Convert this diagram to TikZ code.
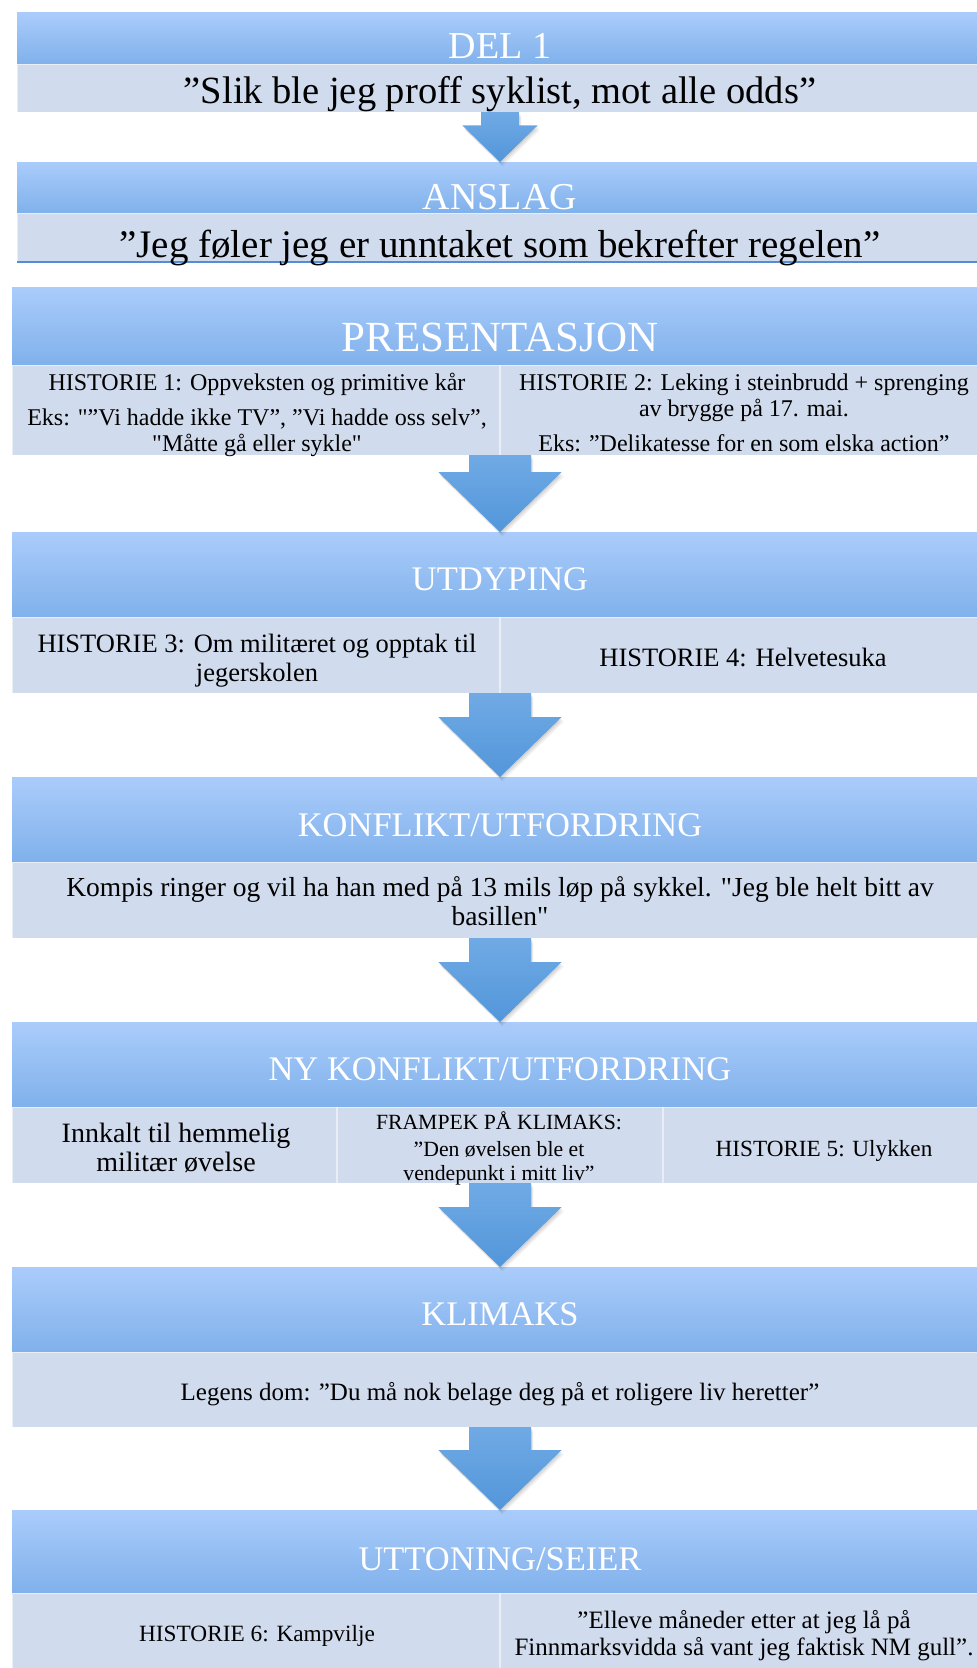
\documentclass[tikz,border=0pt]{standalone}
\usepackage{fontspec}
\setmainfont{Liberation Serif}[Ligatures=TeXOff]
\usetikzlibrary{calc}

\definecolor{hdtop}{RGB}{170,204,251}
\definecolor{hdbot}{RGB}{128,177,235}
\definecolor{cellbg}{RGB}{208,219,237}
\definecolor{arrtop}{RGB}{112,170,229}
\definecolor{arrbot}{RGB}{82,150,218}
\definecolor{rulecol}{RGB}{84,141,212}

\pgfdeclarelayer{boxshadow}
\pgfdeclarelayer{arrshadow}
\pgfdeclarelayer{arrows}
\pgfdeclarelayer{labels}
\pgfsetlayers{boxshadow,main,arrshadow,arrows,labels}

\tikzset{
  hdr/.style={rectangle, inner sep=0pt, outer sep=0pt, top color=hdtop, bottom color=hdbot, draw=none},
  cell/.style={rectangle, inner sep=0pt, outer sep=0pt, fill=cellbg, draw=white, draw opacity=0.55, line width=1pt},
  divider/.style={draw=white, draw opacity=0.55, line width=1.2pt},
  fs/.style={font=\fontsize{#1}{#1}\selectfont},
  htext/.style={anchor=base, inner sep=0pt, text=white},
  btext/.style={anchor=base, inner sep=0pt, text=black},
  arrowbody/.style={top color=arrtop, bottom color=arrbot},
}

% rectangle node given by its corners (x1,y1) (x2,y2)
\newcommand\panel[6]{%
  \node[#6, minimum width={(#4-#2)*1pt}, minimum height={(#5-#3)*1pt}] (#1) at ({(#2+#4)/2},{(#3+#5)/2}) {};}

% soft shadow under a box made of a header and a body node
\newcommand\boxshadow[2]{%
  \foreach \r in {0.5,1.5,2.5,3.5}{%
    \fill[black, opacity=0.07] ($(#1.north west)+(-\r*1pt,\r*1pt-3pt)$) rectangle ($(#2.south east)+(\r*1pt,-\r*1pt-3pt)$);}}

% block arrow outline from the bottom of #1 to the top of #2, scale #3, offset (#4,-#5)
\newcommand\arrowshape[6]{%
  \path[#6] let \p1=(#1.south), \p2=(#2.north) in
    (\x1-31pt*#3+#4,\y1-#5) -- (\x1+31pt*#3+#4,\y1-#5)
    -- (\x1+31pt*#3+#4,\y2+60pt*#3-#5) -- (\x1+61.7pt*#3+#4,\y2+60pt*#3-#5)
    -- (\x1+#4,\y2-#5)
    -- (\x1-61.7pt*#3+#4,\y2+60pt*#3-#5) -- (\x1-31pt*#3+#4,\y2+60pt*#3-#5) -- cycle;}

\newcommand\flowarrow[3]{%
  \begin{pgfonlayer}{arrshadow}
    \arrowshape{#1}{#2}{#3}{0.8pt}{1.5pt}{fill=black, fill opacity=0.07}
    \arrowshape{#1}{#2}{#3}{1.6pt}{3pt}{fill=black, fill opacity=0.06}
    \arrowshape{#1}{#2}{#3}{2.4pt}{4.5pt}{fill=black, fill opacity=0.05}
  \end{pgfonlayer}
  \begin{pgfonlayer}{arrows}
    \arrowshape{#1}{#2}{#3}{0pt}{0pt}{arrowbody}
  \end{pgfonlayer}}

\begin{document}
\begin{tikzpicture}[x=1pt,y=-1pt]
\useasboundingbox (0,0) rectangle (977,1668);
\fill[white] (0,0) rectangle (977,1668);
\clip (0,0) rectangle (977,1668);

% ---- boxes ----
\panel{del1h}{17}{12.5}{983}{64}{hdr}
\panel{del1b}{17}{64}{983}{112}{cell}

\panel{anslagh}{17}{162}{983}{213}{hdr}
\panel{anslagb}{17}{213}{983}{262}{cell}
\draw[rulecol, line width=1.6pt] (anslagb.south west) -- (anslagb.south east);

\panel{presh}{12}{287}{988}{365}{hdr}
\panel{presb}{12}{365}{988}{455}{cell}
\draw[divider] (presb.north) -- (presb.south);

\panel{utdh}{12}{532}{988}{617}{hdr}
\panel{utdb}{12}{617}{988}{693}{cell}
\draw[divider] (utdb.north) -- (utdb.south);

\panel{konh}{12}{777}{988}{862}{hdr}
\panel{konb}{12}{862}{988}{938}{cell}

\panel{nyh}{12}{1022}{988}{1107}{hdr}
\panel{nyb}{12}{1107}{988}{1183}{cell}
\draw[divider] ($(nyb.north west)!0.333!(nyb.north east)$) -- ($(nyb.south west)!0.333!(nyb.south east)$);
\draw[divider] ($(nyb.north west)!0.667!(nyb.north east)$) -- ($(nyb.south west)!0.667!(nyb.south east)$);

\panel{klih}{12}{1267}{988}{1352}{hdr}
\panel{klib}{12}{1352}{988}{1427}{cell}

\panel{utth}{12}{1510}{988}{1593}{hdr}
\panel{uttb}{12}{1593}{988}{1680}{cell}
\draw[divider] (uttb.north) -- (uttb.south);

\begin{pgfonlayer}{boxshadow}
  \boxshadow{del1h}{del1b}
  \boxshadow{anslagh}{anslagb}
  \boxshadow{presh}{presb}
  \boxshadow{utdh}{utdb}
  \boxshadow{konh}{konb}
  \boxshadow{nyh}{nyb}
  \boxshadow{klih}{klib}
  \boxshadow{utth}{uttb}
\end{pgfonlayer}

% ---- arrows ----
\flowarrow{del1b}{anslagh}{0.61}
\flowarrow{presb}{utdh}{1}
\flowarrow{utdb}{konh}{1}
\flowarrow{konb}{nyh}{1}
\flowarrow{nyb}{klih}{1}
\flowarrow{klib}{utth}{1}

% ---- text ----
\begin{pgfonlayer}{labels}
\node[htext, fs=38] (t-del1) at (500,58.3) {DEL 1};
\node[btext, fs=38.5] (q-del1) at (500,103) {”Slik ble jeg proff syklist, mot alle odds”};

\node[htext, fs=38] (t-anslag) at (500,209.3) {ANSLAG};
\node[btext, fs=39] (q-anslag) at (500,257) {”Jeg føler jeg er unntaket som bekrefter regelen”};

\node[htext, fs=43] (t-pres) at (500,351.7) {PRESENTASJON};
\node[btext, fs=24] (h1a) at (257,390.7) {HISTORIE 1: Oppveksten og primitive kår};
\node[btext, fs=24] (h1b) at (257,425) {Eks: "”Vi hadde ikke TV”, ”Vi hadde oss selv”,};
\node[btext, fs=24] (h1c) at (257,451.7) {"Måtte gå eller sykle"};
\node[btext, fs=24] (h2a) at (744,390.7) {HISTORIE 2: Leking i steinbrudd + sprenging};
\node[btext, fs=24] (h2b) at (744,416.7) {av brygge på 17. mai.};
\node[btext, fs=24] (h2c) at (744,451.7) {Eks: ”Delikatesse for en som elska action”};

\node[htext, fs=34.5] (t-utd) at (500,590) {UTDYPING};
\node[btext, fs=26.5] (h3a) at (257,652.7) {HISTORIE 3: Om militæret og opptak til};
\node[btext, fs=26.5] (h3b) at (257,681) {jegerskolen};
\node[btext, fs=26.5] (h4) at (743,666.7) {HISTORIE 4: Helvetesuka};

\node[htext, fs=34.5] (t-kon) at (500,836.7) {KONFLIKT/UTFORDRING};
\node[btext, fs=27.5] (kona) at (500,896.7) {Kompis ringer og vil ha han med på 13 mils løp på sykkel. "Jeg ble helt bitt av};
\node[btext, fs=27.5] (konb2) at (500,925.7) {basillen"};

\node[htext, fs=34.5] (t-ny) at (500,1080) {NY KONFLIKT/UTFORDRING};
\node[btext, fs=28] (nya1) at (176,1142.7) {Innkalt til hemmelig};
\node[btext, fs=28] (nya2) at (176,1171.7) {militær øvelse};
\node[btext, fs=21.7] (nyb1) at (499,1129.3) {FRAMPEK PÅ KLIMAKS:};
\node[btext, fs=21.7] (nyb2) at (499,1156.7) {”Den øvelsen ble et};
\node[btext, fs=21.7] (nyb3) at (499,1180) {vendepunkt i mitt liv”};
\node[btext, fs=23.2] (nyc) at (824,1156) {HISTORIE 5: Ulykken};

\node[htext, fs=34.5] (t-kli) at (500,1325) {KLIMAKS};
\node[btext, fs=25] (q-kli) at (500,1400.7) {Legens dom: ”Du må nok belage deg på et roligere liv heretter”};

\node[htext, fs=34.5] (t-utt) at (500,1570) {UTTONING/SEIER};
\node[btext, fs=23.3] (h6) at (257,1641.7) {HISTORIE 6: Kampvilje};
\node[btext, fs=25] (elv1) at (744,1628.3) {”Elleve måneder etter at jeg lå på};
\node[btext, fs=25] (elv2) at (744,1655) {Finnmarksvidda så vant jeg faktisk NM gull”.};
\end{pgfonlayer}
\end{tikzpicture}
\end{document}
